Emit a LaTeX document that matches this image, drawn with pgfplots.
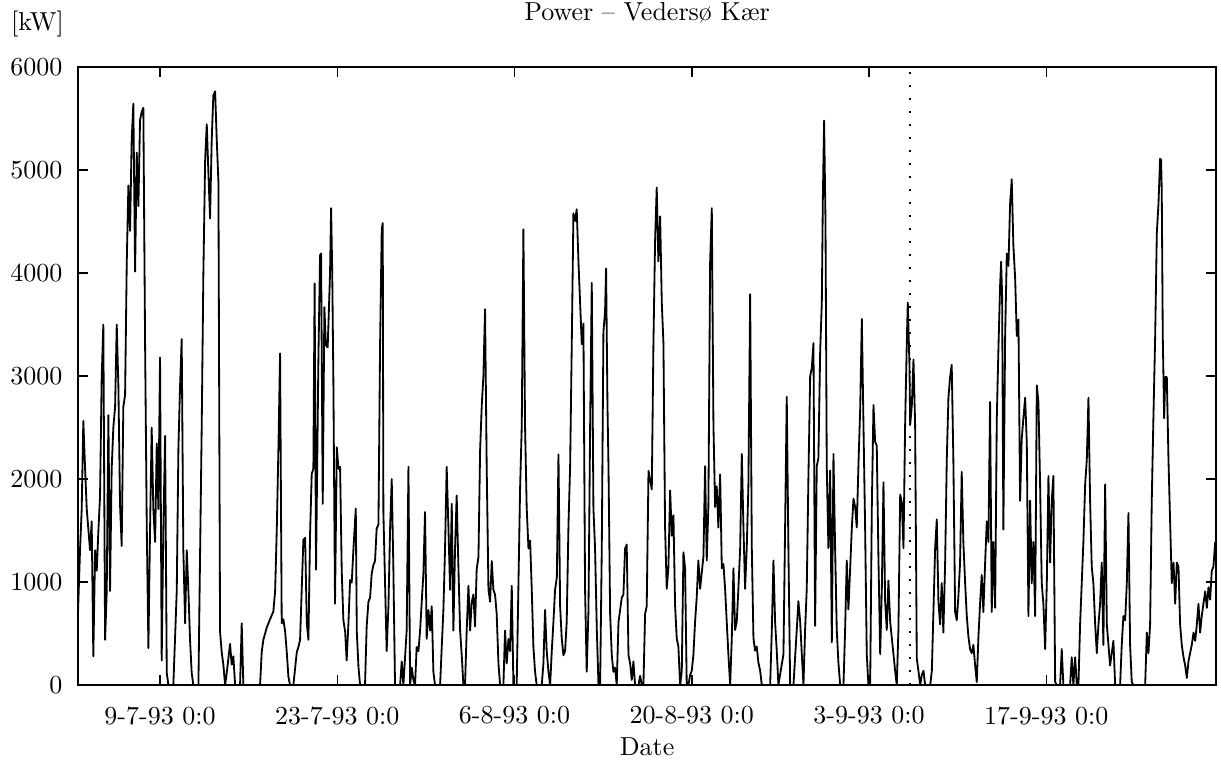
\documentclass[border=0pt]{standalone}
\usepackage{pgfplots}
\pgfplotsset{compat=1.18}
\pgfplotstableread{
t v
1.52 700
1.68 1310
1.81 1700
1.94 2565
2.08 2100
2.21 1710
2.34 1510
2.47 1310
2.60 1590
2.73 280
2.87 1310
3.00 1110
3.13 1500
3.26 1830
3.39 2980
3.52 3500
3.66 440
3.79 915
3.92 2620
4.05 915
4.18 2100
4.31 2500
4.45 2700
4.58 3500
4.71 2900
4.84 1750
4.97 1350
5.10 2700
5.24 2820
5.37 4100
5.50 4850
5.63 4410
5.76 5290
5.89 5645
6.03 4015
6.16 5170
6.29 4650
6.42 5485
6.55 5565
6.68 5605
6.82 3300
6.95 1550
7.08 360
7.21 1510
7.34 2500
7.47 1710
7.61 1390
7.74 2345
7.87 1710
8.00 3180
8.13 240
8.26 1510
8.40 2420
8.53 120
8.66 0
9.05 0
9.32 915
9.45 2300
9.58 2900
9.71 3360
9.84 1310
9.98 600
10.11 1310
10.24 915
10.37 440
10.50 120
10.63 0
11.03 0
11.29 2500
11.42 3975
11.56 5090
11.69 5445
11.82 4970
11.95 4530
12.08 5290
12.21 5725
12.35 5765
12.48 5290
12.61 4890
12.74 520
12.87 320
13.00 200
13.14 0
13.27 120
13.53 400
13.66 200
13.79 280
13.93 0
14.32 0
14.45 600
14.58 0
15.90 0
16.03 320
16.16 440
16.43 560
16.69 640
16.95 715
17.09 915
17.22 1510
17.35 2300
17.48 3220
17.61 600
17.74 640
17.88 520
18.01 320
18.14 80
18.27 0
18.53 0
18.80 320
18.93 370
19.06 440
19.32 1410
19.46 1430
19.59 600
19.72 440
19.85 1470
19.98 2050
20.11 2100
20.21 3900
20.32 1120
20.51 3190
20.64 4175
20.72 4190
20.85 1760
20.98 3670
21.10 3300
21.24 3280
21.30 3500
21.43 4015
21.51 4630
21.60 4015
21.69 2960
21.82 790
21.96 2310
22.09 2100
22.22 2120
22.35 1110
22.48 630
22.62 520
22.74 240
22.88 600
23.01 1020
23.14 995
23.27 1310
23.46 1715
23.54 520
23.67 180
23.80 0
24.19 0
24.32 570
24.46 810
24.59 850
24.72 1085
24.85 1165
24.98 1205
25.11 1520
25.25 1560
25.38 3310
25.51 4425
25.59 4485
25.64 1680
25.77 1005
25.90 330
26.04 765
26.17 1520
26.30 2000
26.43 1125
26.56 0
26.96 0
27.09 230
27.22 0
27.48 530
27.62 2120
27.75 0
27.88 170
28.01 50
28.14 0
28.27 370
28.41 330
28.54 530
28.67 810
28.80 1085
28.93 1680
29.06 450
29.20 730
29.33 530
29.46 765
29.59 130
29.72 0
30.12 0
30.25 370
30.38 730
30.51 1325
30.64 2120
30.78 1520
30.91 925
31.04 1760
31.17 530
31.30 1325
31.43 1840
31.57 1125
31.70 530
31.83 290
31.96 0
32.09 0
32.22 530
32.36 965
32.49 530
32.62 810
32.75 880
32.88 570
33.01 1125
33.15 1245
33.28 2280
33.41 2715
33.54 3000
33.67 3650
33.80 2120
33.94 925
34.07 810
34.20 1205
34.33 925
34.46 880
34.59 690
34.73 210
34.86 0
35.12 0
35.25 530
35.38 210
35.52 450
35.65 330
35.78 965
35.91 0
36.17 0
36.44 1920
36.57 2515
36.70 4425
36.83 2515
36.96 1720
37.10 1325
37.23 1405
37.36 925
37.49 370
37.62 130
37.75 0
38.15 0
38.28 210
38.41 730
38.54 330
38.68 130
38.81 0
38.94 330
39.07 610
39.20 925
39.34 1045
39.47 2240
39.60 765
39.73 450
39.86 290
39.99 330
40.12 610
40.26 1560
40.39 2120
40.52 3310
40.65 4580
40.78 4505
40.91 4620
41.05 4105
41.18 3710
41.31 3310
41.44 3510
41.57 925
41.70 130
41.84 730
41.97 2515
42.10 3905
42.23 1720
42.36 1325
42.50 530
42.63 0
42.76 0
42.89 1325
43.02 3430
43.15 3630
43.23 4045
43.34 2715
43.42 2120
43.55 690
43.68 290
43.81 130
43.94 170
44.07 0
44.21 610
44.34 730
44.47 850
44.60 880
44.73 1325
44.86 1365
45.00 290
45.13 210
45.26 50
45.39 230
45.52 0
45.79 0
45.92 90
46.05 0
46.18 0
46.31 690
46.44 765
46.58 2080
46.84 1900
46.97 3320
47.10 4310
47.23 4830
47.36 4115
47.50 4550
47.63 3715
47.76 3320
47.89 1530
48.02 935
48.15 1135
48.29 1890
48.42 1450
48.55 1650
48.68 775
48.81 455
48.94 375
49.08 0
49.21 140
49.34 1290
49.47 1135
49.60 0
49.73 0
49.87 100
50.00 140
50.13 300
50.26 615
50.39 855
50.52 1210
50.66 935
50.79 1095
50.92 1250
51.05 2125
51.18 1210
51.31 1730
51.45 4115
51.58 4630
51.71 2525
51.84 1730
51.97 1930
52.10 1530
52.24 2045
52.37 1135
52.50 1175
52.63 935
52.76 615
52.89 300
53.03 0
53.16 455
53.29 1135
53.42 535
53.55 615
53.68 935
53.82 1330
53.95 2245
54.08 1530
54.21 935
54.34 1330
54.47 1930
54.61 3795
54.74 1330
54.87 455
55.00 335
55.13 375
55.26 220
55.40 140
55.53 0
56.19 0
56.32 535
56.45 1210
56.58 615
56.71 335
56.84 0
57.24 300
57.37 1530
57.50 2800
57.63 1330
57.77 0
58.03 0
58.29 535
58.42 815
58.56 615
58.69 300
58.82 0
58.95 535
59.08 935
59.21 2005
59.35 3000
59.48 3080
59.61 3320
59.74 575
59.87 2125
60.00 2205
60.14 3240
60.27 3715
60.35 4710
60.45 5480
60.56 4510
60.66 2125
60.79 1330
60.93 2085
61.06 415
61.19 2245
61.32 1330
61.45 535
61.58 220
61.72 0
61.98 0
62.11 535
62.24 1210
62.37 735
62.51 1135
62.64 1530
62.77 1810
62.90 1730
63.03 1530
63.16 2125
63.30 2680
63.43 3555
63.56 2525
63.69 1530
63.82 300
63.95 0
64.09 0
64.22 1730
64.35 2720
64.48 2365
64.61 2325
64.74 1250
64.88 300
65.01 935
65.14 1970
65.27 815
65.40 535
65.53 1015
65.67 615
65.80 455
65.93 300
66.06 140
66.19 0
66.32 535
66.46 1850
66.59 1770
66.72 1330
66.85 2525
66.98 3320
67.06 3715
67.19 3120
67.25 2525
67.38 2720
67.51 3160
67.64 2525
67.77 260
67.90 140
68.04 0
68.17 100
68.30 140
68.43 0
68.83 0
68.96 140
69.09 735
69.22 1330
69.35 1610
69.48 815
69.61 590
69.74 990
69.87 510
70.01 1190
70.14 2190
70.27 2790
70.40 2990
70.53 3110
70.66 2190
70.80 710
70.93 630
71.06 870
71.19 1190
71.32 2070
71.45 1390
71.59 990
71.72 670
71.85 470
71.98 350
72.11 310
72.24 390
72.38 190
72.51 30
72.64 470
72.77 790
72.90 1070
73.03 710
73.17 1190
73.30 1590
73.43 1390
73.56 2750
73.69 710
73.82 1390
73.96 750
74.09 2590
74.22 3270
74.35 3870
74.43 4110
74.51 3790
74.61 1510
74.75 3390
74.88 4190
75.01 4070
75.14 4670
75.27 4910
75.40 4270
75.54 3950
75.67 3390
75.80 3550
75.93 1790
76.06 2390
76.19 2590
76.33 2790
76.46 2350
76.59 670
76.72 1790
76.85 990
76.98 1390
77.12 670
77.25 2910
77.38 2750
77.51 1950
77.64 990
77.77 790
77.91 350
78.04 990
78.17 2030
78.30 1190
78.43 1790
78.56 2030
78.70 30
78.83 0
79.09 0
79.22 350
79.35 0
79.88 0
80.01 270
80.14 0
80.28 270
80.41 0
80.54 0
80.67 590
80.80 990
80.93 1390
81.07 1950
81.20 2190
81.33 2790
81.46 1790
81.59 1150
81.72 990
81.86 590
81.99 310
82.12 590
82.25 790
82.38 1190
82.51 390
82.65 1950
82.78 590
82.91 390
83.04 190
83.17 310
83.30 430
83.44 0
83.83 0
83.96 390
84.09 670
84.23 630
84.36 990
84.49 1670
84.62 390
84.75 30
84.88 0
85.81 0
85.94 510
86.07 310
86.20 590
86.33 1790
86.46 2590
86.60 3390
86.73 4390
86.86 4670
86.99 5110
87.07 5100
87.12 4790
87.20 3390
87.31 2590
87.39 2990
87.52 2990
87.65 2190
87.78 1590
87.91 990
88.05 1190
88.18 790
88.31 1190
88.44 1150
88.57 590
88.70 390
88.84 270
88.97 190
89.10 70
89.23 230
89.36 310
89.49 390
89.63 510
89.76 430
89.89 590
90.02 790
90.15 510
90.28 670
90.41 790
90.55 910
90.68 750
90.81 950
90.94 830
91.07 1110
91.20 1150
91.34 1390
}\powerdata
\begin{document}
\begin{tikzpicture}
\begin{axis}[
  name=ax,
  scale only axis,
  width=437.7pt, height=237.7pt,
  xmin=1.52, xmax=91.41,
  ymin=0, ymax=6000,
  xtick={8,22,36,50,64,78},
  xticklabels={9-7-93 0:0, 23-7-93 0:0, 6-8-93 0:0, 20-8-93 0:0, 3-9-93 0:0, 17-9-93 0:0},
  ytick={0,1000,2000,3000,4000,5000,6000},
  yticklabel style={/pgf/number format/1000 sep={}, inner sep=0pt, anchor=east, xshift=-5.8pt},
  xticklabel style={inner sep=0pt, anchor=north, yshift=-8pt},
  tick align=inside,
  major tick length=4pt,
  tick style={black, line width=0.6pt},
  axis line style={black, line width=0.7pt},
  xlabel={Date},
  xlabel style={at={(axis description cs:0.5,0)}, anchor=north, inner sep=0pt, yshift=-20pt},
  clip=true,
]
\addplot[black, line width=0.7pt, mark=none, line join=round] table[x=t, y=v] {\powerdata};
\addplot[black, line width=0.8pt, dash pattern=on 0.8pt off 4.2pt, mark=none] coordinates {(67.24,0) (67.24,6000)};
\end{axis}
\node[anchor=base, inner sep=0pt] at ([yshift=18pt]ax.north) {Power -- Vedersø Kær};
\node[anchor=base, inner sep=0pt] at ([xshift=-15.6pt, yshift=14pt]ax.north west) {[kW]};
\pgfresetboundingbox
\useasboundingbox ([xshift=-30pt, yshift=-28.8pt]ax.south west) rectangle ([xshift=1.9pt, yshift=25.8pt]ax.north east);
\end{tikzpicture}
\end{document}
